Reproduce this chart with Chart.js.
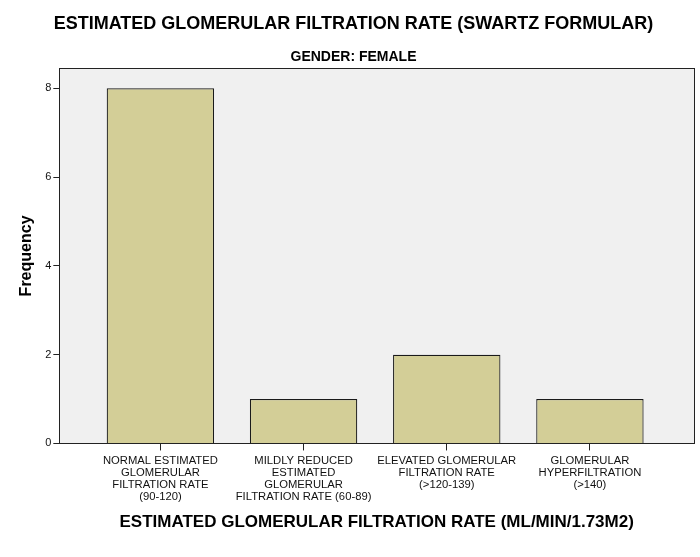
<!DOCTYPE html>
<html>
<head>
<meta charset="utf-8">
<script src="https://cdn.jsdelivr.net/npm/chart.js@4/dist/chart.umd.min.js"></script>
<style>
  html, body { margin: 0; padding: 0; background: #fff; }
  #wrap { width: 700px; height: 557px; position: relative; }
</style>
</head>
<body>
<div id="wrap"><canvas id="myChart"></canvas></div>
<script>
// categories (x positions 0..3) and frequencies
const categoryLabels = [
    ['NORMAL ESTIMATED', 'GLOMERULAR', 'FILTRATION RATE', '(90-120)'],
    ['MILDLY REDUCED', 'ESTIMATED', 'GLOMERULAR', 'FILTRATION RATE (60-89)'],
    ['ELEVATED GLOMERULAR', 'FILTRATION RATE', '(>120-139)'],
    ['GLOMERULAR', 'HYPERFILTRATION', '(>140)']
];
const frequencies = [8, 1, 2, 1];
const yTicks = [0, 2, 4, 6, 8];

const points = frequencies.map((v, i) => ({ x: i, y: v }));

// fond gris + cadre autour de la zone du graphique
const plotBox = {
    id: 'plotBox',
    beforeDraw(chart) {
        const { ctx, chartArea: a } = chart;
        ctx.save();
        ctx.fillStyle = '#f0f0f0';
        ctx.fillRect(a.left, a.top, a.right - a.left, a.bottom - a.top);
        ctx.restore();
    },
    afterDraw(chart) {
        const { ctx, chartArea: a } = chart;
        ctx.save();
        ctx.strokeStyle = '#222';
        ctx.lineWidth = 1;
        ctx.strokeRect(Math.round(a.left) + 0.5, Math.round(a.top) + 0.5,
            Math.round(a.right - a.left), Math.round(a.bottom - a.top));
        ctx.restore();
    }
};

const ctx = document.getElementById('myChart').getContext('2d');
const myChart = new Chart(ctx, {
    type: 'bar',
    data: {
        datasets: [{
            data: points,
            backgroundColor: '#d3ce97',
            borderColor: '#1a1a1a',
            borderWidth: 1.2,
            barPercentage: 0.75,
            categoryPercentage: 1
        }]
    },
    options: {
        responsive: true,
        maintainAspectRatio: false,
        animation: false,
        layout: { padding: { left: 13, right: 6, top: 6, bottom: 20 } },
        scales: {
            x: {
                type: 'linear',
                offset: false,
                min: -0.706,
                max: 3.727,
                afterBuildTicks: axis => { axis.ticks = categoryLabels.map((l, i) => ({ value: i })); },
                ticks: {
                    autoSkip: false,
                    maxRotation: 0,
                    color: '#111',
                    font: { family: 'Liberation Sans', size: 11.25, lineHeight: 1.07 },
                    callback: (v) => categoryLabels[v],
                    padding: 4
                },
                grid: { offset: false, drawOnChartArea: false, color: '#222', tickLength: 7 },
                border: { display: false },
                title: {
                    display: true,
                    text: 'ESTIMATED GLOMERULAR FILTRATION RATE (ML/MIN/1.73M2)',
                    color: '#000',
                    font: { family: 'Liberation Sans', size: 17, weight: 'bold' },
                    padding: { top: 6 }
                }
            },
            y: {
                min: 0,
                max: 8.45,
                afterBuildTicks: axis => { axis.ticks = yTicks.map(v => ({ value: v })); },
                ticks: {
                    color: '#111',
                    font: { family: 'Liberation Sans', size: 11 },
                    padding: 2
                },
                grid: { drawOnChartArea: false, color: '#222', tickLength: 6 },
                border: { display: false },
                title: {
                    display: true,
                    text: 'Frequency',
                    color: '#000',
                    font: { family: 'Liberation Sans', size: 16, weight: 'bold' },
                    padding: { bottom: 7 }
                }
            }
        },
        plugins: {
            legend: { display: false },
            tooltip: { enabled: false },
            title: {
                display: true,
                text: 'ESTIMATED GLOMERULAR FILTRATION RATE (SWARTZ FORMULAR)',
                color: '#000',
                font: { family: 'Liberation Sans', size: 18, weight: 'bold' },
                padding: { top: 7, bottom: 14 }
            },
            subtitle: {
                display: true,
                text: 'GENDER: FEMALE',
                color: '#000',
                font: { family: 'Liberation Sans', size: 14, weight: 'bold' },
                padding: { bottom: 3 }
            }
        }
    },
    plugins: [plotBox]
});
</script>
</body>
</html>
